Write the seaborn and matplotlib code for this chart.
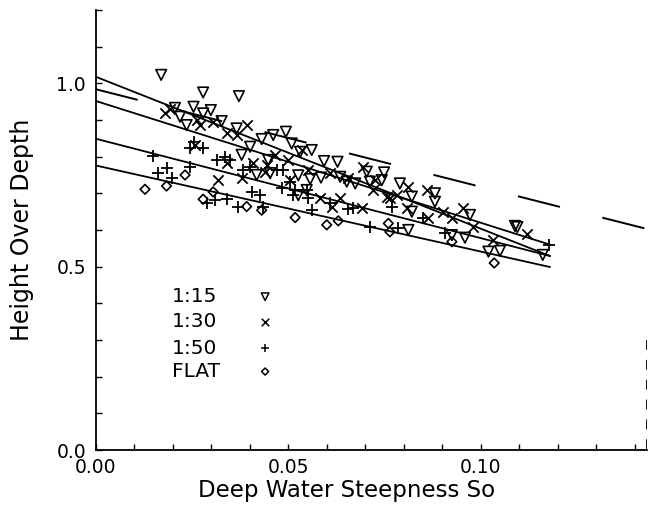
import matplotlib
matplotlib.use("Agg")
import matplotlib.pyplot as plt
import seaborn as sns
import numpy as np

sns.set_theme(style="ticks")
plt.rcParams['font.family'] = ['DejaVu Sans']

# ---------------- data ----------------
s15_x = [0.0170, 0.0279, 0.0372, 0.0206, 0.0254, 0.0299, 0.0279, 0.0219, 0.0236, 0.0327,
         0.0366, 0.0379, 0.0401, 0.0431, 0.0461, 0.0494, 0.0509, 0.0531, 0.0561, 0.0593,
         0.0628, 0.0418, 0.0453, 0.0526, 0.0557, 0.0585, 0.0635, 0.0652, 0.0674, 0.0704,
         0.0749, 0.0712, 0.0743, 0.0548, 0.0526, 0.0790, 0.0821, 0.0881, 0.0881, 0.0821,
         0.0972, 0.0812, 0.0925, 0.0959, 0.1020, 0.1050, 0.1089, 0.1161, 0.0448, 0.1095]
s15_y = [1.023, 0.975, 0.965, 0.933, 0.936, 0.927, 0.918, 0.909, 0.886, 0.897,
         0.877, 0.805, 0.827, 0.848, 0.859, 0.868, 0.836, 0.813, 0.818, 0.788,
         0.786, 0.750, 0.755, 0.749, 0.739, 0.743, 0.745, 0.732, 0.727, 0.759,
         0.757, 0.732, 0.736, 0.709, 0.695, 0.727, 0.691, 0.700, 0.677, 0.650,
         0.641, 0.600, 0.586, 0.579, 0.541, 0.543, 0.611, 0.532, 0.791, 0.608]

s30_x = [0.0180, 0.0193, 0.0262, 0.0271, 0.0305, 0.0340, 0.0366, 0.0392, 0.0258, 0.0340,
         0.0409, 0.0379, 0.0318, 0.0505, 0.0583, 0.0613, 0.0635, 0.0691, 0.0695, 0.0609,
         0.0721, 0.0756, 0.0725, 0.0812, 0.0860, 0.0764, 0.0782, 0.0808, 0.0864, 0.0903,
         0.0925, 0.0955, 0.0981, 0.1033, 0.1119, 0.0466, 0.0500, 0.0535, 0.0552, 0.0440,
         0.0656, 0.0444]
s30_y = [0.918, 0.929, 0.900, 0.886, 0.895, 0.864, 0.859, 0.886, 0.832, 0.782,
         0.782, 0.741, 0.736, 0.736, 0.686, 0.663, 0.686, 0.659, 0.773, 0.755,
         0.709, 0.691, 0.736, 0.718, 0.709, 0.686, 0.695, 0.659, 0.632, 0.650,
         0.632, 0.659, 0.609, 0.573, 0.589, 0.804, 0.791, 0.818, 0.764, 0.759,
         0.741, 0.777]

s50_x = [0.0150, 0.0254, 0.0245, 0.0279, 0.0314, 0.0336, 0.0184, 0.0163, 0.0197, 0.0245,
         0.0383, 0.0483, 0.0518, 0.0505, 0.0513, 0.0561, 0.0656, 0.0712, 0.0288, 0.0310,
         0.0340, 0.0370, 0.0405, 0.0427, 0.0786, 0.0907, 0.0851, 0.1176, 0.0487, 0.0349,
         0.0470, 0.0669, 0.0609, 0.0552, 0.0769, 0.0548, 0.0401, 0.0435]
s50_y = [0.802, 0.841, 0.823, 0.823, 0.791, 0.800, 0.768, 0.755, 0.741, 0.773,
         0.764, 0.714, 0.709, 0.732, 0.695, 0.655, 0.657, 0.609, 0.673, 0.682,
         0.684, 0.663, 0.704, 0.695, 0.605, 0.591, 0.632, 0.559, 0.764, 0.791,
         0.764, 0.659, 0.673, 0.686, 0.663, 0.709, 0.773, 0.663]

flat_x = [0.0128, 0.0184, 0.0232, 0.0279, 0.0305, 0.0392, 0.0431, 0.0518, 0.0600, 0.0630,
          0.0760, 0.0764, 0.0925, 0.1035]
flat_y = [0.711, 0.720, 0.750, 0.684, 0.704, 0.664, 0.654, 0.634, 0.614, 0.625,
          0.618, 0.595, 0.568, 0.510]

fit_x = [0.0, 0.118]
fit15_y = [1.018, 0.529]
fit30_y = [0.952, 0.560]
fit50_y = [0.849, 0.529]
fitflat_y = [0.776, 0.499]

dash_x = [0.0, 0.1431]
dash_y = [0.984, 0.603]
edge_x = [0.1431, 0.1431]
edge_y = [0.30, 0.0]

legend_labels = ['1:15', '1:30', '1:50', 'FLAT']
legend_y = [0.418, 0.350, 0.277, 0.214]

x_major = [0.0, 0.05, 0.10]
x_major_labels = ['0.00', '0.05', '0.10']
y_major = [0.0, 0.5, 1.0]
y_major_labels = ['0.0', '0.5', '1.0']

# ---------------- figure ----------------
fig = plt.figure(figsize=(6.51, 5.05), dpi=100)
ax = fig.add_axes([95.7 / 651, 55 / 505, 551 / 651, 440 / 505])

series = [
    (s15_x, s15_y, 'v', 58, True),
    (s30_x, s30_y, 'x', 55, False),
    (s50_x, s50_y, '+', 66, False),
    (flat_x, flat_y, 'D', 24, True),
]
for xs, ys, m, s, filled in series:
    if filled:
        sns.scatterplot(x=xs, y=ys, marker=m, s=s, facecolor='none',
                        edgecolor='black', linewidth=1.2, ax=ax, zorder=3)
    else:
        sns.scatterplot(x=xs, y=ys, marker=m, s=s, color='black',
                        linewidth=1.3, ax=ax, zorder=3)

for fy in [fit15_y, fit30_y, fit50_y, fitflat_y]:
    sns.lineplot(x=fit_x, y=fy, color='black', linewidth=1.3, ax=ax, zorder=2)

sns.lineplot(x=dash_x, y=dash_y, color='black', linewidth=1.4,
             linestyle=(0, (22.3, 22.5)), ax=ax, zorder=2)
ax.plot(edge_x, edge_y, color='black', linewidth=1.3, linestyle=(0, (5.5, 5.5)), zorder=2)

# legend (drawn as text + markers inside the axes)
leg_marks = [('v', 30, True), ('x', 30, False), ('+', 38, False), ('D', 13, True)]
for lab, ly, (m, s, filled) in zip(legend_labels, legend_y, leg_marks):
    ax.text(0.0197, ly, lab, fontsize=14.5, ha='left', va='center', color='black')
    if filled:
        ax.scatter([0.044], [ly], marker=m, s=s, facecolor='none', edgecolor='black', linewidth=1.1)
    else:
        ax.scatter([0.044], [ly], marker=m, s=s, color='black', linewidth=1.1)

ax.set_xlim(0, 0.1431)
ax.set_ylim(0, 1.2)
ax.set_xticks(x_major)
ax.set_xticklabels(x_major_labels)
ax.set_yticks(y_major)
ax.set_yticklabels(y_major_labels)
ax.set_xticks([i / 100 for i in range(1, 15) if i not in (5, 10)], minor=True)
ax.set_yticks([i / 10 for i in range(1, 13) if i not in (5, 10)], minor=True)
ax.tick_params(which='both', direction='in', length=4, width=1.0, color='black',
               labelsize=13.5, labelcolor='black')
ax.tick_params(axis='x', pad=6)
ax.tick_params(axis='y', pad=7)

for sp in ['top', 'right']:
    ax.spines[sp].set_visible(False)
for sp in ['left', 'bottom']:
    ax.spines[sp].set_color('black')
    ax.spines[sp].set_linewidth(1.3)

ax.set_xlabel('Deep Water Steepness So', fontsize=16.5, color='black')
ax.set_ylabel('Height Over Depth', fontsize=17, color='black')
ax.xaxis.set_label_coords(0.456, -0.067)
ax.xaxis.label.set_va('top')
ax.yaxis.set_label_coords(-0.134, 0.5)
ax.yaxis.label.set_va('center')

fig.savefig('out.png', dpi=100)
